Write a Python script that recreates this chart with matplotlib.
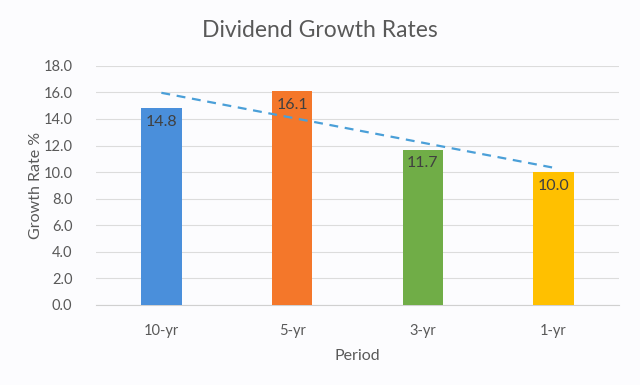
import numpy as np
import matplotlib
matplotlib.use('Agg')
import matplotlib.pyplot as plt

# 數據
periods = ['10-yr', '5-yr', '3-yr', '1-yr']
growth = [14.8, 16.1, 11.7, 10.0]
bar_colors = ['#4A8FDB', '#F4772A', '#70AD47', '#FFC000']
y_ticks = [0, 2, 4, 6, 8, 10, 12, 14, 16, 18]

plt.rcParams['font.family'] = ['Lato', 'DejaVu Sans']

fig = plt.figure(figsize=(6.4, 3.85), dpi=100, facecolor='#FCFCFE')
ax = fig.add_axes([0.15, 0.208, 0.817, 0.621], facecolor='#FCFCFE')

x = np.arange(len(periods))
ax.bar(x, growth, width=0.31, color=bar_colors, zorder=3)

# 線性趨勢線
coef = np.polyfit(x, growth, 1)
ax.plot(x, np.polyval(coef, x), linestyle=(0, (4, 3)), color='#4A9FD8', lw=1.6, zorder=4)

for xi, v in zip(x, growth):
    ax.annotate(f'{v:.1f}', (xi, v), xytext=(0, -5), textcoords='offset points',
                ha='center', va='top', fontsize=11.5, color='#404040', zorder=5)

ax.set_xlim(-0.5, len(periods) - 0.5)
ax.set_ylim(0, 18)
ax.set_yticks(y_ticks)
ax.set_yticklabels([f'{t:.1f}' for t in y_ticks])
ax.set_xticks(x)
ax.set_xticklabels(periods)
ax.grid(axis='y', color='#DCDCDC', lw=0.8, zorder=0)
for s in ['top', 'right', 'left']:
    ax.spines[s].set_visible(False)
ax.spines['bottom'].set_color('#D0D0D0')
ax.tick_params(axis='both', length=0, labelsize=10.5, colors='#595959')
ax.tick_params(axis='y', pad=17)
ax.tick_params(axis='x', pad=14)

ax.set_xlabel('Period', fontsize=11.5, color='#595959', labelpad=8)
ax.set_ylabel('Growth Rate %', fontsize=11.5, color='#595959', labelpad=0)
fig.text(0.5, 0.922, 'Dividend Growth Rates', ha='center', va='center', fontsize=16.5, color='#595959')

fig.savefig('out.png', dpi=100, facecolor=fig.get_facecolor())
